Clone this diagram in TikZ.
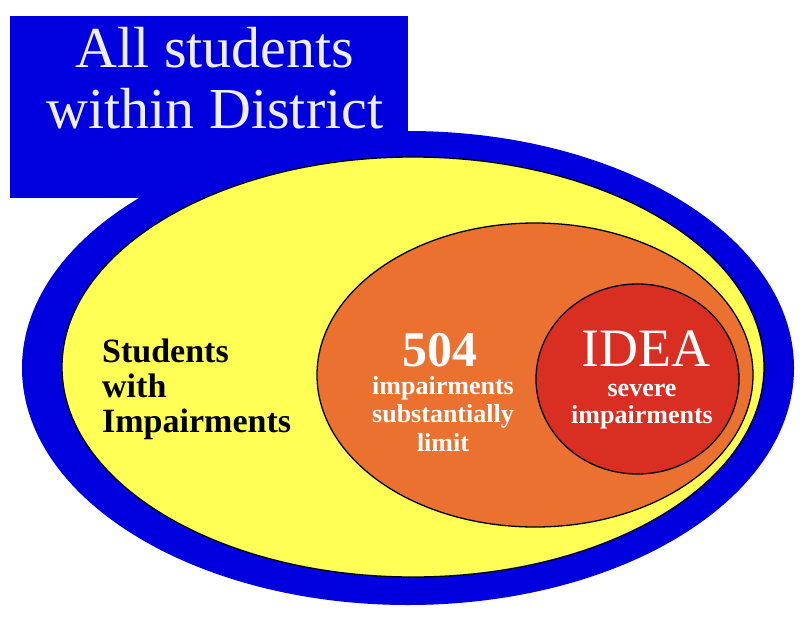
\documentclass[tikz,border=0pt]{standalone}
\usepackage{fontspec}
\setmainfont{Liberation Serif}
\usetikzlibrary{shapes.geometric}
\definecolor{distblue}{RGB}{0,0,222}
\definecolor{impyellow}{RGB}{255,255,85}
\definecolor{secorange}{RGB}{235,113,48}
\definecolor{ideared}{RGB}{217,46,34}
\definecolor{paletext}{RGB}{238,238,238}
\begin{document}
\begin{tikzpicture}[x=1pt, y=-1pt,
	set/.style={ellipse, inner sep=0pt},
	ring/.style={set, draw=black, line width=1.3pt},
	lbl/.style={align=center, anchor=base, inner sep=0pt}]
	
	\useasboundingbox (0,0) rectangle (808,624);
	
	\node[rectangle, fill=distblue, minimum width=398pt, minimum height=182pt] at (209,107) (district) {};
	\node[set, fill=distblue, minimum width=772pt, minimum height=474pt] at (408,368) (all) {};
	
	\node[ring, fill=impyellow, minimum width=702pt, minimum height=420pt] at (413,367) (imp) {};
	\node[ring, fill=secorange, minimum width=436pt, minimum height=304pt] at (535,375) (sec) {};
	\node[ring, fill=ideared, minimum width=203pt, minimum height=190pt] at (637.5,379) (idea) {};
	
	% multi-line texts sit on their last baseline
	\node[lbl, text=paletext, font=\fontsize{58}{61}\selectfont] at (215,128) (title) {All students\\within District};
	\node[lbl, anchor=base west, align=left, font=\bfseries\fontsize{34}{35}\selectfont] at (102,432) (imptext) {Students\\with\\Impairments};
	
	\node[lbl, text=white, font=\bfseries\fontsize{50}{50}\selectfont] at (440,366) (sechead) {504};
	\node[lbl, text=white, font=\bfseries\fontsize{26}{28.5}\selectfont] at (443,451) (sectext) {impairments\\substantially\\limit};
	
	\node[lbl, text=white, font=\fontsize{54}{54}\selectfont] at (646,366) (ideahead) {IDEA};
	\node[lbl, text=white, font=\bfseries\fontsize{26}{27}\selectfont] at (642,423) (ideatext) {severe\\impairments};
	
\end{tikzpicture}
\end{document}
